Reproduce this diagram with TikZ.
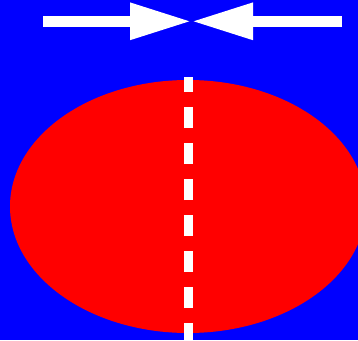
\documentclass[tikz,border=0pt]{standalone}
\usepackage{tikz}
\usetikzlibrary{shapes.geometric, arrows.meta, positioning}
\definecolor{bgblue}{RGB}{0,0,255}
\definecolor{discred}{RGB}{255,0,0}
\tikzset{
  %% ---- shapes ----
  disc/.style      = {ellipse, fill=discred, draw=none, inner sep=0pt,
                      minimum width=356pt, minimum height=253pt},
  %% ---- lines ----
  axisline/.style  = {draw=white, line width=9pt,
                      dash pattern=on 21pt off 15pt},
  pusharrow/.style = {-{Triangle[length=61.5pt, width=34.5pt]},
                      line width=10.5pt, color=white},
}
\begin{document}
\begin{tikzpicture}[x=1pt, y=-1pt]

  %% background
  \fill[bgblue] (0,0) rectangle (358,340);
  \useasboundingbox (0,0) rectangle (358,340);
  \clip (0,0) rectangle (358,340);

  %% disc
  \node[disc] (body) at (188,206.5) {};

  %% dashed axis
  \coordinate (axbot) at (188.5,344);
  \coordinate (axtop) at (188.5,77);
  \draw[axisline] (axbot) -- (axtop);

  %% arrows
  \coordinate (tip)   at (191.5,21.3);
  \coordinate (lfrom) at (43,21.3);
  \coordinate (rfrom) at (342,21.3);
  \draw[pusharrow] (lfrom) -- (tip);
  \draw[pusharrow] (rfrom) -- (tip);

\end{tikzpicture}
\end{document}
